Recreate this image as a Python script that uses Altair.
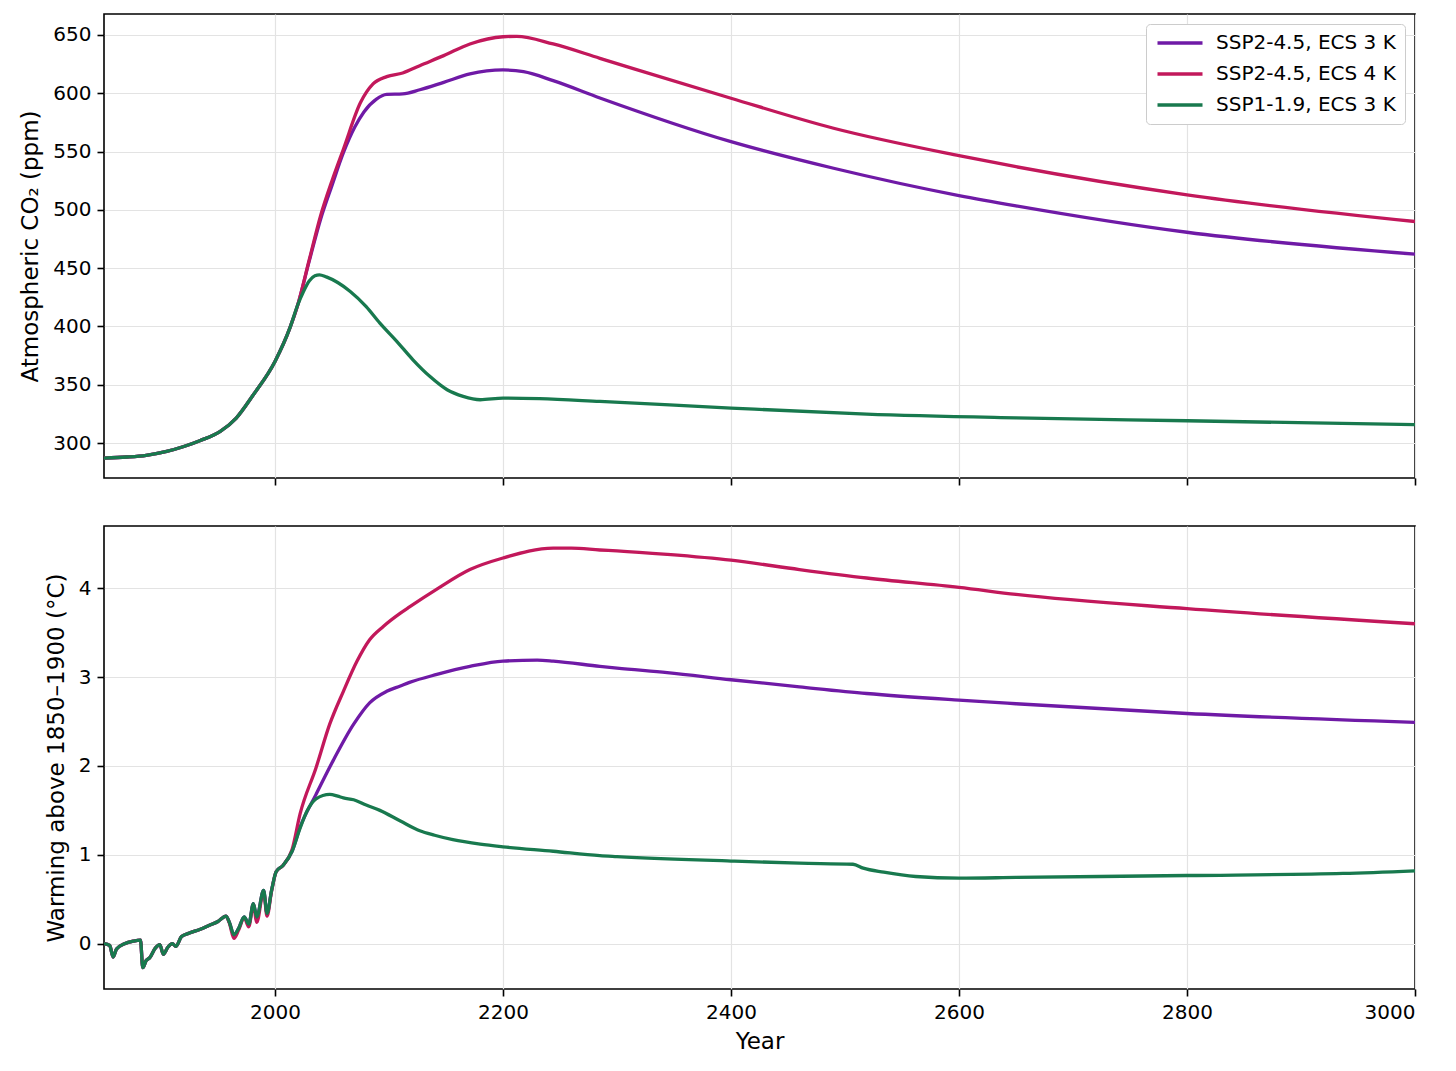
import altair as alt
import pandas as pd

FONT = "DejaVu Sans"

SERIES = ["SSP2-4.5, ECS 3 K", "SSP2-4.5, ECS 4 K", "SSP1-1.9, ECS 3 K"]
COLORS = ["#6f1aa6", "#c2185b", "#18794e"]

# ---------------- Atmospheric CO2 (ppm) ----------------
YEARS_HIST_C = [1850, 1870, 1887, 1905, 1920, 1934, 1952, 1966, 1981, 2000, 2013, 2020]
CO2_HIST = [287.0, 288.0, 289.5, 292.8, 297.0, 302.0, 310.0, 321.4, 341.4, 370.0, 398.5, 418.6]

YEARS_C_P3 = [2030, 2040, 2050, 2060, 2070, 2078, 2089, 2098, 2112, 2127, 2148, 2171,
              2200, 2218, 2244, 2285, 2400, 2490, 2600, 2650, 2800, 3000]
CO2_P3 = [456, 492, 521, 549, 571, 584, 595, 599, 599.5, 603, 609.4, 616.6,
          620, 618.5, 610.8, 596, 558.5, 535.7, 512.3, 503.5, 480.8, 462]

YEARS_C_P4 = [2030, 2040, 2050, 2060, 2075, 2086, 2098, 2112, 2127, 2148, 2171, 2200,
              2212, 2244, 2285, 2400, 2490, 2600, 2650, 2800, 3000]
CO2_P4 = [457, 495, 525, 552, 592, 608, 614.3, 617.4, 623.7, 632.3, 642.3, 648.5,
          648.8, 642.3, 630, 595.7, 570, 546.5, 537, 512.9, 490]

YEARS_C_L3 = [2025, 2030, 2035, 2039, 2045, 2066, 2080, 2092, 2107, 2121, 2136, 2151,
              2165, 2180, 2200, 2232, 2285, 2400, 2519, 2650, 2800, 3000]
CO2_L3 = [430, 439, 443.5, 444.3, 442.5, 430, 417, 402.8, 387, 371.4, 357, 345.7,
          340, 337.1, 338.5, 338, 335.7, 330, 324.8, 321.6, 319.1, 315.7]

# ---------------- Warming above 1850-1900 (degC) ----------------
YEARS_HIST_T = [1850, 1855, 1858, 1861, 1868, 1876, 1882, 1884, 1887, 1890, 1895, 1899,
                1902, 1906, 1910, 1913, 1918, 1925, 1934, 1943, 1950, 1957, 1960, 1964,
                1968, 1973, 1977, 1981, 1984, 1990, 1993, 1997, 2001, 2007]
T_HIST = [0.0, -0.02, -0.15, -0.06, 0.0, 0.03, 0.04, -0.27, -0.19, -0.16, -0.05, -0.01,
          -0.12, -0.04, 0.0, -0.03, 0.08, 0.12, 0.16, 0.21, 0.25, 0.31, 0.24, 0.10,
          0.17, 0.30, 0.22, 0.45, 0.30, 0.60, 0.34, 0.60, 0.81, 0.88]
T_HIST_HOT = [0.0, -0.02, -0.15, -0.06, 0.0, 0.03, 0.04, -0.27, -0.19, -0.16, -0.05, -0.01,
              -0.12, -0.04, 0.0, -0.03, 0.08, 0.12, 0.16, 0.21, 0.25, 0.31, 0.23, 0.06,
              0.15, 0.29, 0.19, 0.44, 0.24, 0.59, 0.31, 0.59, 0.81, 0.88]

YEARS_T_P3 = [2015, 2022, 2036, 2051, 2069, 2083, 2098, 2110, 2118, 2142, 2171, 2200,
              2230, 2244, 2285, 2300, 2344, 2400, 2460, 2519, 2600, 2650, 2800, 3000]
T_P3 = [1.04, 1.31, 1.68, 2.06, 2.47, 2.71, 2.84, 2.90, 2.94, 3.03, 3.12, 3.18,
        3.19, 3.18, 3.12, 3.10, 3.05, 2.97, 2.89, 2.815, 2.74, 2.70, 2.59, 2.49]

YEARS_T_P4 = [2015, 2022, 2036, 2048, 2060, 2072, 2083, 2095, 2110, 2118, 2142, 2171,
              2200, 2244, 2260, 2285, 2300, 2344, 2400, 2460, 2519, 2600, 2650, 2800, 3000]
T_P4 = [1.06, 1.46, 1.98, 2.47, 2.84, 3.18, 3.42, 3.57, 3.72, 3.79, 3.99, 4.21,
        4.34, 4.45, 4.45, 4.43, 4.42, 4.38, 4.315, 4.21, 4.115, 4.01, 3.93, 3.77, 3.60]

YEARS_T_L3 = [2015, 2022, 2028, 2036, 2048, 2055, 2060, 2069, 2080, 2092, 2110, 2127,
              2140, 2156, 2180, 2200, 2244, 2285, 2300, 2400, 2460, 2507, 2516, 2534,
              2562, 2600, 2650, 2800, 2937, 3000]
T_L3 = [1.04, 1.30, 1.49, 1.63, 1.68, 1.66, 1.64, 1.62, 1.56, 1.50, 1.38, 1.27,
        1.22, 1.17, 1.12, 1.09, 1.04, 0.99, 0.98, 0.93, 0.906, 0.894, 0.85, 0.805,
        0.756, 0.737, 0.745, 0.767, 0.79, 0.82]

X_TICKS = [2000, 2200, 2400, 2600, 2800, 3000]
CO2_TICKS = [300, 350, 400, 450, 500, 550, 600, 650]
T_TICKS = [0, 1, 2, 3, 4]


def series_frame(name, years, values):
    return pd.DataFrame({"year": years, "value": values, "series": name})


co2_frames = [
    series_frame(SERIES[0], YEARS_HIST_C + YEARS_C_P3, CO2_HIST + CO2_P3),
    series_frame(SERIES[1], YEARS_HIST_C + YEARS_C_P4, CO2_HIST + CO2_P4),
    series_frame(SERIES[2], YEARS_HIST_C + YEARS_C_L3, CO2_HIST + CO2_L3),
]
t_frames = [
    series_frame(SERIES[0], YEARS_HIST_T + YEARS_T_P3, T_HIST + T_P3),
    series_frame(SERIES[1], YEARS_HIST_T + YEARS_T_P4, T_HIST_HOT + T_P4),
    series_frame(SERIES[2], YEARS_HIST_T + YEARS_T_L3, T_HIST + T_L3),
]

color_scale = alt.Scale(domain=SERIES, range=COLORS)

x_scale = alt.Scale(domain=[1850, 3000], nice=False, zero=False)


def panel(frames, y_scale, y_axis, x_axis, legend):
    layers = []
    for df in frames:
        layers.append(
            alt.Chart(df)
            .mark_line(strokeWidth=3.3, interpolate="monotone", clip=True)
            .encode(
                x=alt.X("year:Q", scale=x_scale, axis=x_axis),
                y=alt.Y("value:Q", scale=y_scale, axis=y_axis),
                color=alt.Color("series:N", scale=color_scale, legend=legend),
            )
        )
    return alt.layer(*layers)


top = panel(
    co2_frames,
    alt.Scale(domain=[270, 668], nice=False, zero=False),
    alt.Axis(values=CO2_TICKS, title="Atmospheric CO₂ (ppm)", titlePadding=10),
    alt.Axis(values=X_TICKS, labels=False, title=None),
    alt.Legend(
        orient="top-right", title=None,
        symbolType="M-1,0L5,0", symbolSize=225,
        symbolStrokeWidth=3.3, labelFontSize=20, labelFont=FONT, labelColor="black",
        labelLimit=600,
        fillColor="white", strokeColor="#cccccc", cornerRadius=4, padding=9,
        offset=10, rowPadding=11, labelOffset=41,
    ),
).properties(width=1311, height=464)

bottom = panel(
    t_frames,
    alt.Scale(domain=[-0.51, 4.70], nice=False, zero=False),
    alt.Axis(values=T_TICKS, title="Warming above 1850–1900 (°C)", titlePadding=10),
    alt.Axis(values=X_TICKS, title="Year", format="d", titlePadding=8),
    None,
).properties(width=1311, height=463)

chart = (
    alt.vconcat(top, bottom, spacing=38)
    .resolve_scale(color="independent")
    .properties(padding={"left": 11, "top": 5, "right": 5, "bottom": 5})
    .configure(font=FONT)
    .configure_view(stroke="black", strokeWidth=1.6)
    .configure_axis(
        domain=False,
        grid=True,
        gridColor="#e3e3e3",
        gridWidth=1.2,
        tickColor="black",
        tickWidth=1.6,
        tickSize=7,
        labelPadding=6,
        labelFontSize=20,
        labelColor="black",
        labelFont=FONT,
        titleFontSize=23,
        titleFontWeight="normal",
        titleColor="black",
        titleFont=FONT,
    )
)

chart.save("out.html", embed_options={"renderer": "svg", "actions": False})
